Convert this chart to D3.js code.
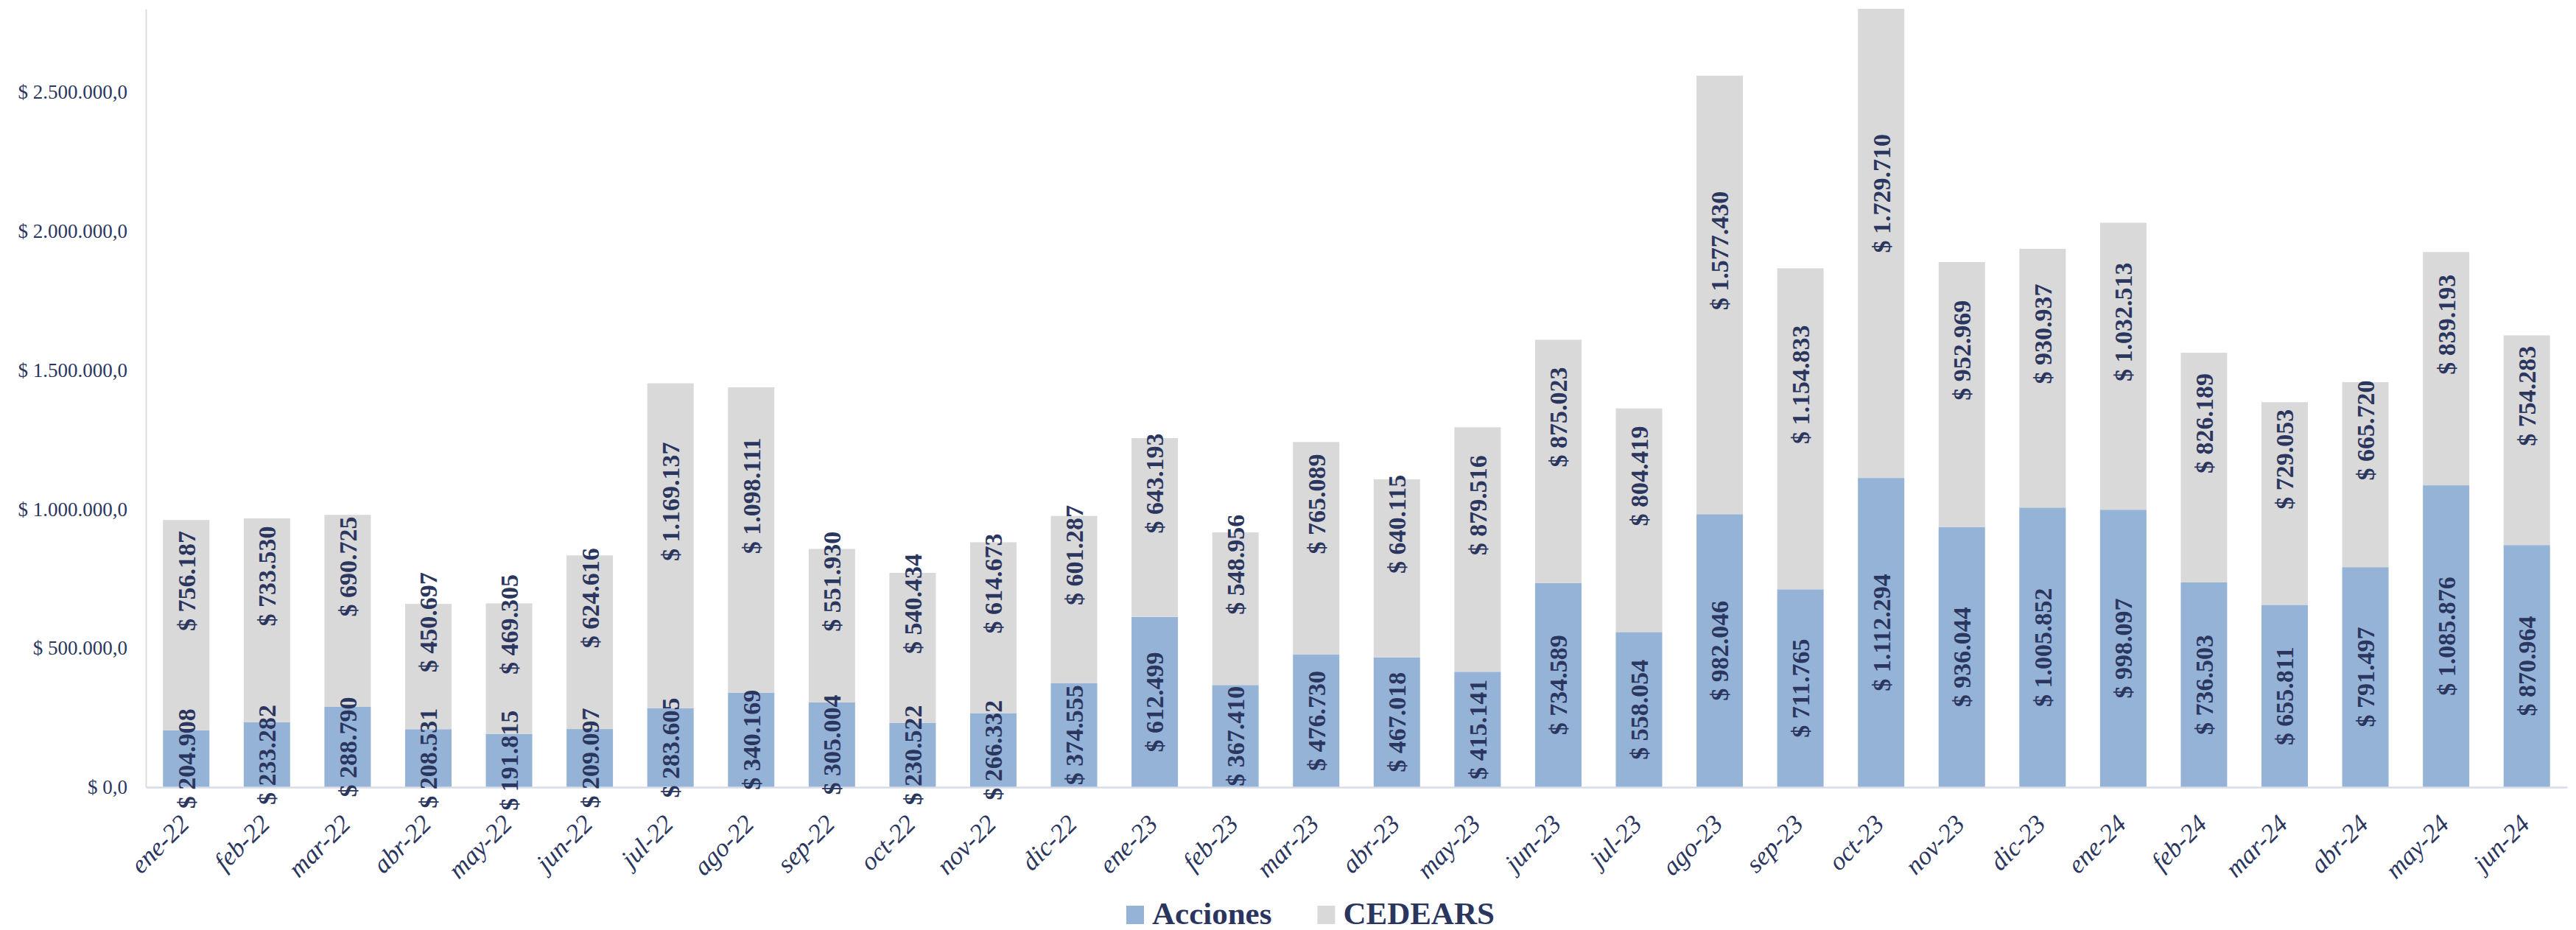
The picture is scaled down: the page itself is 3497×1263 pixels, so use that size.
<!DOCTYPE html>
<html>
<head>
<meta charset="utf-8">
<script src="https://cdn.jsdelivr.net/npm/d3@7"></script>
<style>
  body { margin: 0; background: #fff; }
  svg { display: block; }
</style>
</head>
<body>
<svg id="chart"></svg>
<script>
// data
const months = ["ene-22", "feb-22", "mar-22", "abr-22", "may-22", "jun-22", "jul-22", "ago-22", "sep-22", "oct-22",
  "nov-22", "dic-22", "ene-23", "feb-23", "mar-23", "abr-23", "may-23", "jun-23", "jul-23", "ago-23",
  "sep-23", "oct-23", "nov-23", "dic-23", "ene-24", "feb-24", "mar-24", "abr-24", "may-24", "jun-24"];
const acciones = [204908, 233282, 288790, 208531, 191815, 209097, 283605, 340169, 305004, 230522,
  266332, 374555, 612499, 367410, 476730, 467018, 415141, 734589, 558054, 982046,
  711765, 1112294, 936044, 1005852, 998097, 736503, 655811, 791497, 1085876, 870964];
const cedears = [756187, 733530, 690725, 450697, 469305, 624616, 1169137, 1098111, 551930, 540434,
  614673, 601287, 643193, 548956, 765089, 640115, 879516, 875023, 804419, 1577430,
  1154833, 1729710, 952969, 930937, 1032513, 826189, 729053, 665720, 839193, 754283];
const yTicks = [0, 500000, 1000000, 1500000, 2000000, 2500000];
const seriesNames = ["Acciones", "CEDEARS"];
const seriesColors = ["#95b3d7", "#d9d9d9"];

// 1: SIZES
const W = 3497, H = 1263;
const plot = { left: 198, right: 3485, top: 12, bottom: 1069 };
const textColor = "#2b365f";

const svg = d3.select("#chart").attr("width", W).attr("height", H);

const loc = d3.formatLocale({ decimal: ",", thousands: ".", grouping: [3], currency: ["$ ", ""] });
const fmtTick = loc.format("$,.1f");
const fmtLabel = loc.format("$,.0f");

// 2: DATA TABLE
const table = months.map((m, i) => ({ month: m, Acciones: acciones[i], CEDEARS: cedears[i] }));
const stacked = d3.stack().keys(seriesNames)(table);

// 3: SCALES
const x = d3.scaleBand()
  .domain(months)
  .range([plot.left, plot.right])
  .paddingInner(0.425)
  .paddingOuter(0.2125);

const y = d3.scaleLinear()
  .domain([0, 2800000])
  .range([plot.bottom, plot.top]);

svg.append("defs").append("clipPath").attr("id", "plotClip")
  .append("rect")
  .attr("x", plot.left).attr("y", plot.top)
  .attr("width", plot.right - plot.left).attr("height", plot.bottom - plot.top);

// 4: BARS
svg.append("g").attr("clip-path", "url(#plotClip)")
  .selectAll("g")
  .data(stacked)
  .join("g")
  .attr("fill", (d, i) => seriesColors[i])
  .selectAll("rect")
  .data(d => d)
  .join("rect")
  .attr("x", d => x(d.data.month))
  .attr("y", d => y(d[1]))
  .attr("width", x.bandwidth())
  .attr("height", d => y(d[0]) - y(d[1]));

// 5: AXES
const yAxis = svg.append("g")
  .attr("transform", `translate(${plot.left},0)`)
  .call(d3.axisLeft(y).tickValues(yTicks).tickFormat(fmtTick).tickSize(0).tickPadding(25));
yAxis.select(".domain").attr("stroke", "#dedede").attr("stroke-width", 2);
yAxis.selectAll("text")
  .attr("fill", textColor)
  .style("font-family", "'Liberation Serif', serif")
  .style("font-size", "27px");

const xAxis = svg.append("g")
  .attr("transform", `translate(0,${plot.bottom})`)
  .call(d3.axisBottom(x).tickSize(0).tickSizeOuter(0));
xAxis.select(".domain").attr("stroke", "#d9dbe8").attr("stroke-width", 2.5);
xAxis.selectAll("text")
  .attr("fill", textColor)
  .style("font-family", "'Liberation Serif', serif")
  .style("font-style", "italic")
  .style("font-size", "35px")
  .attr("text-anchor", "end")
  .attr("dy", 0)
  .attr("y", 0)
  .attr("transform", "translate(6,52) rotate(-45)");

// 6: DATA LABELS (rotated, centred in each segment)
const labelShift = [0, -60];
stacked.forEach((s, si) => {
  svg.append("g")
    .selectAll("text")
    .data(s)
    .join("text")
    .attr("transform", d => {
      const cx = x(d.data.month) + x.bandwidth() / 2;
      const cy = (y(d[0]) + y(d[1])) / 2 + labelShift[si];
      return `translate(${cx},${cy}) rotate(-90)`;
    })
    .attr("text-anchor", "middle")
    .attr("dy", "0.35em")
    .attr("fill", textColor)
    .style("font-family", "'Liberation Serif', serif")
    .style("font-weight", "bold")
    .style("font-size", "34px")
    .text(d => fmtLabel(d[1] - d[0]));
});

// 7: LEGEND
const legend = svg.append("g");
let lx = 0;
seriesNames.forEach((name, i) => {
  const g = legend.append("g").attr("transform", `translate(${lx},0)`);
  g.append("rect").attr("x", 0).attr("y", -25).attr("width", 24).attr("height", 25).attr("fill", seriesColors[i]);
  const t = g.append("text")
    .attr("x", 35).attr("y", 0)
    .attr("fill", textColor)
    .style("font-family", "'Liberation Serif', serif")
    .style("font-weight", "bold")
    .style("font-size", "43px")
    .text(name);
  lx += 35 + t.node().getComputedTextLength() + 62;
});
legend.attr("transform", "translate(1529,1255)");
</script>
</body>
</html>
